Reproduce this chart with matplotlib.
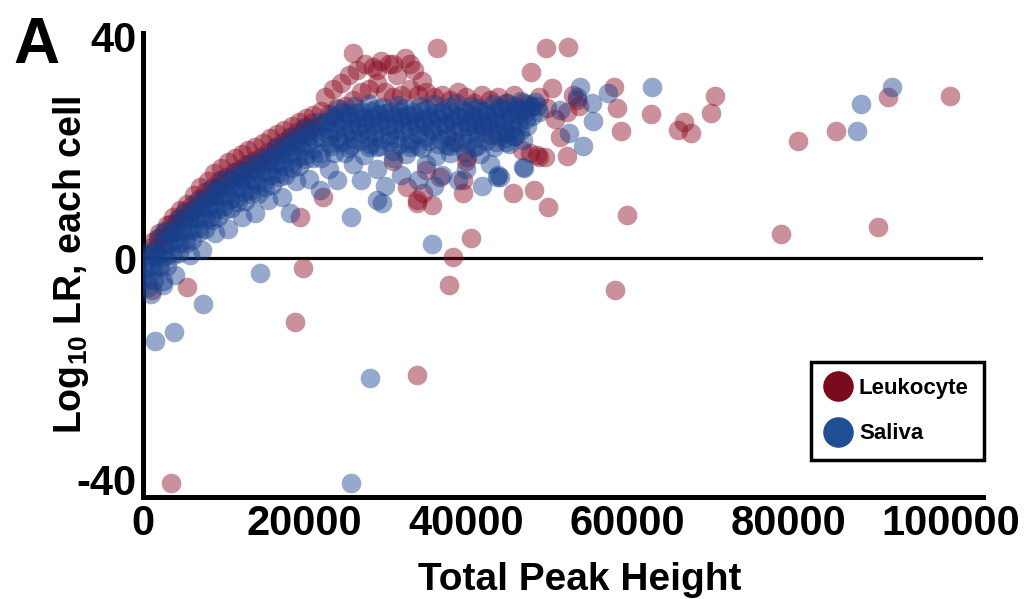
import numpy as np
import matplotlib
matplotlib.use('Agg')
import matplotlib.pyplot as plt
from matplotlib.lines import Line2D

plt.rcParams['font.family'] = ['Liberation Sans', 'DejaVu Sans']
plt.rcParams['font.weight'] = 'bold'
plt.rcParams['mathtext.fontset'] = 'custom'
plt.rcParams['mathtext.rm'] = 'Liberation Sans:bold'
plt.rcParams['mathtext.default'] = 'rm'
plt.rcParams['axes.unicode_minus'] = False

# ---------- Data (total peak height, log10 LR) ----------
# Leukocyte: rising edge of the band (three staggered rows)
leuko_r1_x = [700, 1500, 2400, 3200, 4100, 5000, 5800, 6600, 7500, 8400, 9200, 10000, 10900,
              11700, 12500, 13400, 14300, 15200, 16100, 17000, 17900, 18800, 19700, 20600, 21500]
leuko_r1_y = [0.6, 1.4, 3.7, 4.2, 6.1, 6.8, 8.3, 9.0, 10.6, 11.2, 12.6, 13.3, 14.5, 14.6,
              15.8, 16.0, 17.2, 17.6, 19.0, 19.5, 20.8, 21.2, 22.5, 23.1, 23.7]
leuko_r2_x = [1100, 2000, 2900, 3700, 4600, 5400, 6300, 7100, 8000, 8800, 9700, 10500, 11400,
              12200, 13000, 13900, 14800, 15700, 16600, 17500, 18400, 19300, 20200, 21100, 22000]
leuko_r2_y = [2.9, 4.6, 6.0, 7.4, 8.6, 9.8, 11.3, 12.8, 13.9, 15.3, 16.2, 17.4, 18.0, 18.7,
              19.5, 20.1, 20.8, 21.6, 22.3, 23.1, 23.8, 24.6, 25.2, 25.8, 26.5]
leuko_r3_x = [900, 1800, 2700, 3500, 4400, 5200, 6000, 6900, 7700, 8600, 9500, 10300, 11200,
              12000, 12900, 13700, 14600, 15500, 16400, 17300, 18200, 19100, 20000, 20900]
leuko_r3_y = [1.8, 3.6, 4.8, 6.1, 7.2, 8.5, 9.6, 10.7, 11.9, 12.9, 14.0, 14.7, 15.6, 16.1,
              17.0, 17.5, 18.3, 19.1, 20.0, 20.9, 21.8, 22.7, 23.6, 24.3]
# Leukocyte: plateau, hump and cells inside the band
leuko_band = [
    (22500, 29), (23500, 30.5), (24500, 31.5), (25500, 33), (26500, 34), (27500, 35),
    (28500, 34.5), (29500, 35.5), (30500, 35), (31500, 33), (32500, 36), (33500, 34),
    (34500, 32), (23000, 26), (24000, 27), (25000, 27.5), (26000, 28.5), (27000, 30),
    (28000, 30.5), (29000, 31.5), (30000, 30), (31000, 29), (32000, 29.5), (33000, 30.5),
    (34000, 29.5), (26000, 36.9), (36400, 37.8), (29000, 34), (31000, 35), (33000, 35),
    (35000, 30), (36000, 29), (37000, 29.5), (38000, 28.5), (39000, 30), (40000, 29),
    (41000, 28), (42000, 29.5), (43000, 28.5), (44000, 29), (45000, 28), (46000, 29.5),
    (47000, 28), (48000, 27.5), (49000, 29), (50000, 27), (50700, 30.6), (48100, 33.5),
    (53700, 28.5), (54000, 27.5), (52500, 26.3), (53200, 29.5), (51000, 25),
    (35100, 15.9), (36800, 14.6), (40100, 18.2), (42100, 23.6), (47900, 18.9),
    (49100, 18.2), (32700, 12.8), (34700, 11.7), (39600, 14), (40000, 17.6),
    (31000, 17.6), (19400, 7.4), (22300, 11), (33900, 10.5), (44000, 22), (38500, 21),
]
# Leukocyte: scattered cells
leuko_out = [
    (49900, 37.8), (52600, 38), (51600, 21.8), (52500, 18.4), (49800, 18.2),
    (46900, 19.5), (48800, 18.6), (45800, 11.7), (48400, 12.3), (50100, 9.2),
    (58700, 27), (58300, 30.8), (59200, 22.9), (62900, 25.9), (66300, 23.1),
    (67000, 24.5), (67900, 22.5), (70400, 26.1), (70800, 29.2), (81100, 21.1),
    (85800, 22.9), (92300, 29), (99900, 29.2), (79000, 4.3), (91100, 5.6),
    (60000, 7.7), (58500, -5.8), (40600, 3.6), (38400, 0.2), (37900, -4.9),
    (33900, -21.1), (19800, -1.8), (18800, -11.5), (5400, -5.2), (1100, -5.8),
    (3500, -40.5), (33900, 9.9), (35800, 9.5), (39600, 11.7),
]

# Saliva: rising part of the band (staggered rows)
saliva_ra_x = [400, 1100, 1900, 2600, 3500, 4200, 5100, 5900, 6700, 7400, 8300, 9100, 9800, 10700,
               11500, 12400, 13100, 14000, 14800, 15700, 16500, 17300, 18200, 19000, 19900,
               20700, 21600, 22500]
saliva_ra_y = [1.1, 1.0, 3.6, 4.9, 5.0, 6.8, 8.1, 8.5, 10.2, 10.4, 12.3, 12.6, 14.1, 14.2,
               15.6, 15.5, 17.0, 16.9, 18.3, 18.6, 20.1, 20.2, 21.7, 21.9, 23.4, 23.2, 24.5, 24.3]
saliva_re_x = [700, 1500, 2400, 3300, 4000, 4900, 5700, 6500, 7300, 8100, 9000, 9700, 10600,
               11400, 12300, 13000, 13900, 14700, 15600, 16400, 17200, 18100, 18900, 19800,
               20600, 21500]
saliva_re_y = [-0.4, 1.3, 2.4, 4.2, 4.7, 6.3, 7.0, 8.5, 9.2, 10.6, 11.3, 12.5, 13.0, 14.1,
               14.4, 15.4, 15.7, 16.8, 17.3, 18.5, 18.9, 20.2, 20.6, 21.9, 22.1, 23.0]
saliva_rb_x = [200, 900, 1600, 2300, 3100, 3900, 4700, 5500, 6300, 7100, 7900, 8700, 9500, 10300,
               11100, 12000, 12800, 13600, 14500, 15300, 16100, 17000, 17800, 18600, 19500,
               20300, 21200, 22100]
saliva_rb_y = [-2.0, -1.6, 0.3, 0.9, 2.6, 3.2, 4.8, 5.3, 7.0, 7.5, 9.0, 9.6, 11.0, 11.4,
               12.5, 12.9, 13.9, 14.1, 15.3, 15.6, 16.9, 17.3, 18.6, 18.9, 20.3, 20.5, 21.5, 21.7]
saliva_rf_x = [100, 500, 1200, 2000, 2700, 3400, 4400, 5200, 6000, 6800, 7600, 8400, 9200,
               10000, 10800, 11600, 12500, 13300, 14100, 15000, 15800, 16700, 17500, 18400,
               19200, 20100, 21000]
saliva_rf_y = [-3.6, -4.0, -2.1, -1.4, 0.4, 0.9, 2.7, 3.2, 5.0, 5.4, 7.0, 7.4, 8.9, 9.4,
               10.6, 10.8, 12.0, 12.2, 13.3, 13.7, 14.9, 15.4, 16.6, 17.1, 18.3, 18.6, 19.7]
saliva_rc_x = [600, 1400, 2100, 2900, 3700, 4500, 5300, 6100, 6900, 7700, 8500, 9300, 10100,
               10900, 11800, 12600, 13400, 14200, 15100, 15900, 16800, 17600, 18500, 19300,
               20100, 21000, 21900]
saliva_rc_y = [-5.2, -3.9, -1.6, -1.4, 0.6, 1.0, 2.7, 3.2, 4.8, 5.3, 6.8, 7.4, 8.7, 9.0,
               10.1, 10.3, 11.5, 11.6, 12.9, 13.2, 14.7, 14.9, 16.3, 16.6, 17.8, 18.1, 19.0]
saliva_rd_x = [1000, 2500, 4000, 5800, 7300, 8900, 10500, 12200, 13800, 15500, 17200, 18900, 20500]
saliva_rd_y = [-6.5, -4.2, -3.0, 0.5, 1.4, 4.5, 5.2, 7.5, 8.1, 10.5, 11.0, 13.9, 14.3]
# Saliva: plateau of the band (staggered rows)
saliva_p1_x = [23400, 24300, 25300, 26100, 27000, 28000, 28800, 29700, 30600, 31600, 32400,
               33300, 34300, 35200, 36000, 37000, 37900, 38700, 39700, 40600, 41400, 42400,
               43300, 44100, 45100, 46000, 46800, 47700, 48600]
saliva_p1_y = [25.8, 26.9, 26.2, 27.4, 26.6, 27.8, 26.9, 27.3, 26.5, 27.6, 27.0, 26.4, 27.5,
               26.8, 27.7, 26.6, 27.2, 27.9, 26.7, 27.4, 27.0, 26.5, 27.8, 27.2, 27.9, 27.4,
               28.4, 27.8, 28.2]
saliva_p5_x = [22700, 23700, 24600, 25500, 26400, 27300, 28200, 29100, 30000, 30900, 31800,
               32700, 33600, 34500, 35400, 36300, 37200, 38100, 39000, 39900, 40800, 41700,
               42600, 43500, 44400, 45300, 46200, 47100, 48000, 48800]
saliva_p5_y = [24.6, 25.5, 26.3, 25.7, 26.1, 25.4, 26.5, 25.9, 26.2, 25.6, 26.4, 25.8, 26.0,
               26.6, 25.5, 26.2, 25.9, 26.5, 25.7, 26.3, 25.8, 26.6, 25.9, 26.4, 26.8, 26.2,
               27.0, 26.7, 27.2, 27.5]
saliva_p2_x = [22900, 23800, 24800, 25700, 26600, 27500, 28400, 29200, 30100, 31100, 32000,
               32900, 33800, 34700, 35600, 36500, 37400, 38300, 39200, 40100, 41000, 41900,
               42800, 43700, 44600, 45500, 46400, 47300, 48200, 49000]
saliva_p2_y = [23.2, 24.1, 24.8, 24.0, 25.2, 24.4, 25.3, 24.6, 25.0, 24.2, 25.4, 24.7, 24.3,
               25.1, 24.5, 25.3, 24.2, 24.9, 25.4, 24.6, 24.1, 25.2, 24.8, 25.5, 24.9, 25.6,
               25.9, 26.1, 25.7, 26.4]
saliva_p6_x = [23000, 23900, 24900, 25800, 26700, 27600, 28500, 29400, 30300, 31200, 32100,
               33000, 33900, 34800, 35700, 36600, 37500, 38400, 39300, 40200, 41100, 42000,
               42900, 43800, 44700, 45600, 46500, 47400]
saliva_p6_y = [22.0, 22.9, 23.6, 23.1, 23.9, 23.3, 24.0, 23.5, 23.8, 23.2, 24.1, 23.4, 23.7,
               24.0, 23.3, 23.9, 23.5, 24.2, 23.6, 23.9, 23.4, 24.1, 23.7, 24.3, 24.0, 24.6,
               24.4, 25.0]
saliva_p3_x = [23200, 24100, 25000, 26000, 26900, 27800, 28700, 29500, 30400, 31300, 32200,
               33100, 34000, 35000, 35900, 36800, 37700, 38600, 39500, 40400, 41300, 42200,
               43100, 44000, 44900, 45800, 46700, 47600]
saliva_p3_y = [20.8, 21.6, 22.3, 21.4, 22.6, 21.9, 22.8, 21.5, 22.2, 21.7, 22.9, 21.3, 22.4,
               21.8, 22.7, 21.4, 22.1, 22.9, 21.6, 22.5, 21.9, 22.8, 22.2, 23.1, 22.6, 23.4,
               23.0, 23.8]
saliva_p7_x = [23300, 24500, 25700, 26900, 28100, 29300, 30500, 31700, 32900, 34100, 35300,
               36500, 37700, 38900, 40100, 41300, 42500, 43700, 44900, 46100]
saliva_p7_y = [20.2, 20.9, 20.4, 21.1, 20.6, 20.2, 21.0, 20.5, 20.8, 20.3, 21.1, 20.6, 20.4,
               21.0, 20.7, 20.3, 21.2, 21.0, 21.6, 22.0]
saliva_p4_x = [23600, 25500, 27300, 29000, 30900, 32600, 34500, 36300, 38000, 39900, 41700,
               43500, 45300, 47100]
saliva_p4_y = [19.0, 19.8, 18.6, 20.1, 19.3, 18.8, 19.9, 18.5, 20.3, 19.1, 18.7, 20.0, 20.6, 21.3]
# Saliva: lower spread under the plateau and scattered cells
saliva_band = [
    (22000, 18), (23000, 16), (24000, 14), (25000, 19), (26000, 17), (27000, 14),
    (28000, 20), (29000, 16), (30000, 13), (31000, 18), (32000, 15), (33000, 20),
    (34000, 14), (35000, 17), (36000, 13), (37000, 15), (38000, 19), (39000, 14),
    (40000, 16), (41000, 20), (42000, 13), (43000, 17), (44000, 15), (45000, 21),
    (46000, 22),
]
saliva_out = [
    (14500, -2.7), (35800, 2.5), (7400, -8.3), (3800, -13.3), (1500, -15),
    (2500, -4.9), (28100, -21.6), (25700, -40.5), (63000, 30.8), (88400, 22.9),
    (88900, 27.7), (92800, 30.8), (47200, 16.2), (54500, 20.2), (55700, 24.7),
    (57600, 29.7), (54100, 30.8), (44200, 14.6), (52800, 22.5), (25700, 7.4),
    (29600, 9.9), (43800, 14.6), (47000, 16.4), (21900, 12.3), (18200, 8.1),
    (29000, 10.5), (51600, 26.7), (55600, 27.9), (53700, 29),
]

leuko_x = (leuko_r1_x + leuko_r3_x + leuko_r2_x
           + [p[0] for p in leuko_band + leuko_out])
leuko_y = (leuko_r1_y + leuko_r3_y + leuko_r2_y
           + [p[1] for p in leuko_band + leuko_out])
saliva_x = (saliva_ra_x + saliva_re_x + saliva_rb_x + saliva_rf_x + saliva_rc_x + saliva_rd_x
            + saliva_p1_x + saliva_p5_x + saliva_p2_x + saliva_p6_x + saliva_p3_x
            + saliva_p7_x + saliva_p4_x + [p[0] for p in saliva_band + saliva_out])
saliva_y = (saliva_ra_y + saliva_re_y + saliva_rb_y + saliva_rf_y + saliva_rc_y + saliva_rd_y
            + saliva_p1_y + saliva_p5_y + saliva_p2_y + saliva_p6_y + saliva_p3_y
            + saliva_p7_y + saliva_p4_y + [p[1] for p in saliva_band + saliva_out])

red = '#8a0a22'
blue = '#173f8c'

# ---------- Plot ----------
fig = plt.figure(figsize=(10.3, 5.99), dpi=100)
ax = fig.add_axes([0.139, 0.170, 0.815, 0.775])

ax.axhline(0, color='black', lw=2.3, zorder=1)
ax.scatter(leuko_x, leuko_y, s=200, color=red, alpha=0.45, linewidths=0, zorder=2)
ax.scatter(saliva_x, saliva_y, s=200, color=blue, alpha=0.45, linewidths=0, zorder=3)

ax.set_xlim(0, 104000)
ax.set_ylim(-43.1, 40.6)
ax.set_xticks([0, 20000, 40000, 60000, 80000, 100000])
ax.set_yticks([-40, 0, 40])
ax.tick_params(length=0, labelsize=30, pad=5)
for s in ['top', 'right']:
    ax.spines[s].set_visible(False)
for s in ['left', 'bottom']:
    ax.spines[s].set_linewidth(3.6)

ax.set_xlabel('Total Peak Height', fontsize=28, fontweight='bold')
ax.xaxis.set_label_coords(0.52, -0.14)
ax.set_ylabel(r'Log$_{10}$ LR, each cell', fontsize=27, fontweight='bold')
ax.yaxis.set_label_coords(-0.062, 0.5)

fig.text(0.013, 0.895, 'A', fontsize=46, fontweight='bold')

handles = [
    Line2D([], [], marker='o', ls='', color='#7b0a1c', markersize=21, label='Leukocyte'),
    Line2D([], [], marker='o', ls='', color='#1f4f92', markersize=21, label='Saliva'),
]
leg = ax.legend(handles=handles, loc='lower right', bbox_to_anchor=(1.002, 0.08),
                fontsize=16, frameon=True, fancybox=False, handletextpad=0.45,
                borderpad=0.7, labelspacing=1.1, handlelength=1.0, borderaxespad=0)
leg.get_frame().set_edgecolor('black')
leg.get_frame().set_linewidth(2.5)
leg.get_frame().set_alpha(1)

plt.savefig('out.png', dpi=100)
